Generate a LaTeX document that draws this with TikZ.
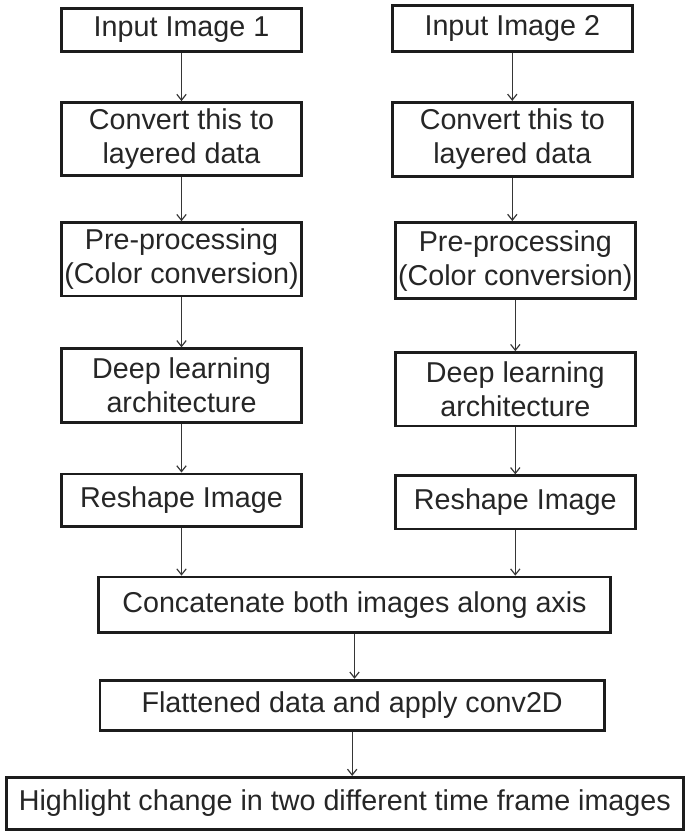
\documentclass[tikz,border=0pt]{standalone}
\usepackage{fontspec}
\setmainfont{Liberation Sans}
\usetikzlibrary{arrows.meta, positioning, calc}
\definecolor{boxEdge}{HTML}{1C1C1C}
\definecolor{textDark}{HTML}{262626}
\definecolor{lineDark}{HTML}{363636}
\tikzset{
  flowArrow/.style={-{Straight Barb[length=5pt, width=8pt]}, color=lineDark, line width=1pt},
  stageBox/.style={rectangle, draw=boxEdge, line width=2.4pt, fill=white, text=textDark,
                   align=center, inner sep=2pt, minimum width=7.2cm,
                   font=\fontsize{24.5}{29}\selectfont},
}
\begin{document}
\begin{tikzpicture}
        \useasboundingbox (0,0) rectangle (20.61,-24.99);
        % left branch
        \node[stageBox, minimum height=1.3cm] (inL) at (5.445,-0.9) {Input Image 1};
        \node[stageBox, minimum height=2.2cm, below=1.44cm of inL] (convL) {Convert this to\\layered data};
        \node[stageBox, minimum height=2.2cm, below=1.32cm of convL] (preL) {Pre-processing\\(Color conversion)};
        \node[stageBox, minimum height=2.2cm, below=1.5cm of preL] (deepL) {Deep learning\\architecture};
        \node[stageBox, minimum height=1.57cm, below=1.47cm of deepL] (reL) {Reshape Image};
        % right branch
        \node[stageBox, minimum height=1.39cm, right=2.64cm of inL, yshift=0.05cm] (inR) {Input Image 2};
        \node[stageBox, minimum height=2.23cm, below=1.44cm of inR] (convR) {Convert this to\\layered data};
        \node[stageBox, minimum height=2.29cm, below=1.29cm of convR, xshift=0.09cm] (preR) {Pre-processing\\(Color conversion)};
        \node[stageBox, minimum height=2.2cm, below=1.53cm of preR] (deepR) {Deep learning\\architecture};
        \node[stageBox, minimum height=1.6cm, below=1.41cm of deepR] (reR) {Reshape Image};
        % merged part
        \node[stageBox, minimum width=15.34cm, minimum height=1.66cm, below=1.44cm of reL, xshift=5.19cm] (cat) {Concatenate both images along axis};
        \node[stageBox, minimum width=15.13cm, minimum height=1.51cm, below=1.35cm of cat, xshift=-0.07cm] (flat) {Flattened data and apply conv2D};
        \node[stageBox, minimum width=20.32cm, minimum height=1.57cm, below=1.32cm of flat, xshift=-0.22cm] (out) {Highlight change in two different time frame images};
        \draw[flowArrow] (inL) -- (convL);
        \draw[flowArrow] (convL) -- (preL);
        \draw[flowArrow] (preL) -- (deepL);
        \draw[flowArrow] (deepL) -- (reL);
        \draw[flowArrow] (inR.south) -- (inR.south |- convR.north);
        \draw[flowArrow] (convR.south) -- (convR.south |- preR.north);
        \draw[flowArrow] (preR) -- (deepR);
        \draw[flowArrow] (deepR) -- (reR);
        \draw[flowArrow] (reL) -- (reL |- cat.north);
        \draw[flowArrow] (reR) -- (reR |- cat.north);
        \draw[flowArrow] (cat.south) -- (cat.south |- flat.north);
        \draw[flowArrow] (flat.south) -- (flat.south |- out.north);
      \end{tikzpicture}
\end{document}
